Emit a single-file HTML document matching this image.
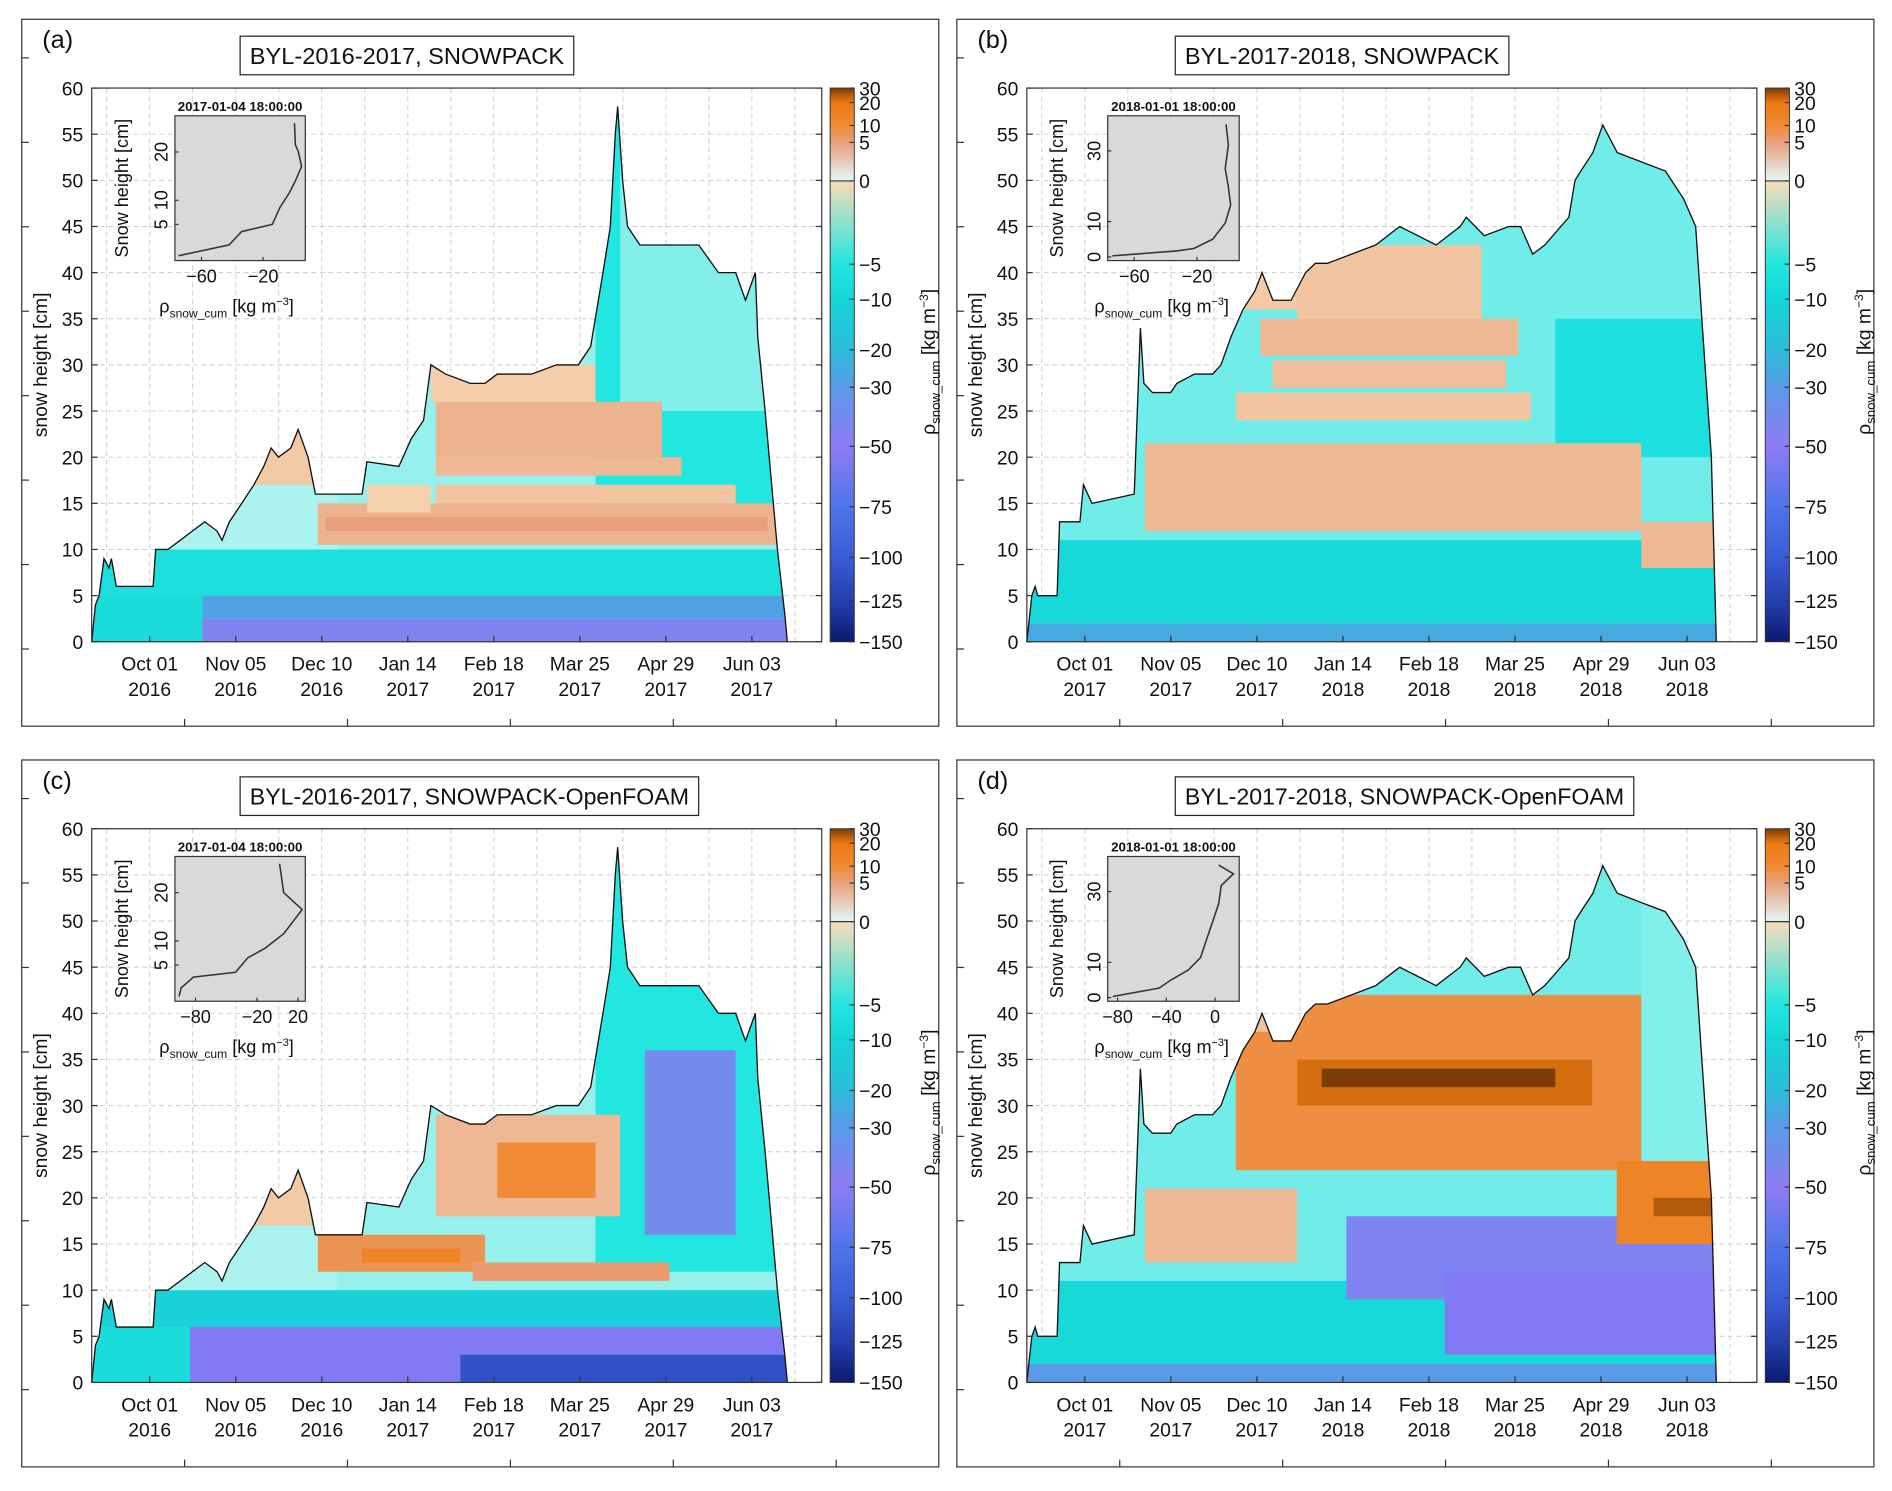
<!DOCTYPE html>
<html><head><meta charset="utf-8"><style>
html,body{margin:0;padding:0;background:#fff}
svg{display:block;font-family:"Liberation Sans","DejaVu Sans",sans-serif}
</style></head><body>
<svg id="fig" xmlns="http://www.w3.org/2000/svg" width="1892" height="1491" viewBox="0 0 1568 1236" preserveAspectRatio="none"></svg>
<script>
// ---- data ----
const xTickLabels=["Oct 01","Nov 05","Dec 10","Jan 14","Feb 18","Mar 25","Apr 29","Jun 03"];
const xTickDaysA=[23.6,58.6,93.6,128.6,163.6,198.6,233.6,268.6];
const yearsA=["2016","2016","2016","2017","2017","2017","2017","2017"];
const yearsB=["2017","2017","2017","2018","2018","2018","2018","2018"];
const yTicks=[0,5,10,15,20,25,30,35,40,45,50,55,60];
const cbTicks=[30,20,10,5,0,-5,-10,-20,-30,-50,-75,-100,-125,-150];
const cbTickY=[73,85,104,118,150,219,248,290,321,370,420,462,498,532];
const cmapV=[-150,-125,-100,-75,-50,-30,-20,-10,-5,0,0.001,5,10,20,30];
const cmapC=['#0b1a6e','#2440b0','#3a5cd6','#4f74ea','#8d7cf4','#5a9ae8','#2cbcd8','#14d6d8','#22e6e0','#e4f8f6','#f8dcb8','#e8a07c','#f08a34','#ec7a10','#7a3c08'];
// snow height envelopes: day offset and height (cm)
const envDaysA=[0,1.5,3,5,7,8,10,13,25,26,31,36,41,46,51,53,56,61,66,70,73,76,81,84,88,91,110,112,125,130,135,138,144,154,160,165,171,179,189,198,203,208,211,213,214,216,218,223,233,247,255,262,266,270,271,274,279,282,283];
const envHA=[0,4,5,9,8,9,6,6,6,10,10,11,12,13,12,11,13,15,17,19,21,20,21,23,20,16,16,19.5,19,22,24,30,29,28,28,29,29,29,30,30,32,40,45,55,58,50,45,43,43,43,40,40,37,40,33,25,10,3,0];
const envDaysB=[0,2,3.4,4.4,12.3,13.3,21.6,23,26.5,43.7,46.2,47.6,51.1,58.5,61,68.2,75.6,79,83,87.9,92.8,95.7,100.1,107.5,113.4,117.4,122.3,132.1,141.9,151.7,159.1,166.5,176.3,178.8,186.1,196,200.9,205.8,210.7,220.5,223,225.4,230.3,234.3,240.2,250,259.8,267.2,272.1,274.6,278.5,280.5];
const envHB=[0,5,6,5,5,13,13,17,15,16,34,28,27,27,28,29,29,30,33,36,38,40,37,37,40,41,41,42,43,45,44,43,45,46,44,45,45,42,43,46,50,51,53,56,53,52,51,48,45,35,20,0];
// layer blocks: [dayStart, dayEnd, hBottom, hTop, density]
const blocksA=[[0,300,0,60,-2],[0,300,5,10,-7],[0,45,0,5,-8],[45,300,2.5,5,-28],[45,300,0,2.5,-45],[30,100,10,22,-1.5],[205,300,12,60,-5],[215,300,25,60,-2.5],
 [92,280,10.5,15,3.5],[95,275,12,13.5,5],[140,262,15,17,2],[140,240,18,20,3],[140,232,20,26,3.5],[138,205,26,30,1.2],[112,138,14,17,1],[60,90,17,23,1.5]];
const blocksB=[[0,300,0,60,-3],[0,300,2,11,-9],[0,300,0,2,-25],[205,300,14,60,-3],[215,280,20,35,-7],[48,250,12,21.5,3],[250,285,8,13,3],[85,205,24,27,2],[95,200,31,35,3],[100,195,27.5,30.5,2.5],[110,185,35,43,2],[80,110,36,40,1.5]];
const blocksC=[[0,300,0,60,-2],[0,300,6,10,-12],[0,300,0,6,-8],[40,300,0,6,-55],[150,290,0,3,-110],[30,100,10,22,-1.5],[205,300,12,60,-5],[225,262,16,36,-40],
 [92,160,12,16,8],[110,150,13,14.5,14],[155,235,11,13,6],[140,215,18,29,3],[165,205,20,26,10],[60,90,17,23,1.5]];
const blocksD=[[0,300,0,60,-3],[0,300,2,11,-9],[0,300,0,2,-30],[130,290,9,18,-45],[170,290,3,12,-55],[48,110,13,21,3],
 [85,250,23,42,9],[110,230,30,35,22],[120,215,32,34,30],[240,282,15,24,14],[255,282,18,20,25],[250,295,24,60,-2.5],[80,100,38,42,2]];
// inset profiles: density value and snow height
const profXA=[-75,-42,-34,-14,-9,-3,1,5,3,1,0.4];
const profHA=[-1.5,0.75,3.5,5,8.5,11.5,14,17,20,21.5,26];
const profXB=[-74,-33,-22,-10,-2,1.5,0,-2,0,-1.5];
const profHB=[0.3,1.7,2.4,5,9.6,14.7,19.8,25,31.7,37.5];
const profXC=[-96,-94,-82,-41,-29,-12,6,24,6,2];
const profHC=[-1.5,0.25,2.5,3.5,6.5,8.5,11.5,16.5,20,26];
const profXD=[-84,-46,-36,-22,-12,-7,-2,3,5,15,3];
const profHD=[0.3,2.7,5,7.8,11.3,16.4,21.5,26.6,31.7,35,37.5];

// ---- helpers ----
const NS="http://www.w3.org/2000/svg";
const svg=document.getElementById('fig');
function mk(tag,attrs,parent){const e=document.createElementNS(NS,tag);for(const k in attrs)e.setAttribute(k,attrs[k]);(parent||svg).appendChild(e);return e;}
function hex(c){return [1,3,5].map(i=>parseInt(c.substr(i,2),16));}
function cmap(v){if(v<=cmapV[0])return cmapC[0];for(let i=1;i<cmapV.length;i++){if(v<=cmapV[i]){const t=(v-cmapV[i-1])/(cmapV[i]-cmapV[i-1]);const a=hex(cmapC[i-1]),b=hex(cmapC[i]);return 'rgb('+a.map((x,j)=>Math.round(x+(b[j]-x)*t)).join(',')+')';}}return cmapC[cmapC.length-1];}
function fmt(v){return v<0?'\u2212'+(-v):''+v;}
const X0=76,X1=681,Y0=73,Y1=532,PXD=2.037,PXH=(Y1-Y0)/60;

function panel(id,ox,oy,title,letter,envD,envH,blocks,years,inset){
  const g=mk('g',{transform:`translate(${ox},${oy})`});
  
  
  const fr=mk('rect',{x:18,y:16,width:760,height:586,fill:'none',stroke:'#333','stroke-width':1},g);
  
  for(let i=1;i<6;i++){mk('line',{x1:18+i*135,x2:18+i*135,y1:602,y2:596,stroke:'#333'},g);}
  for(let i=0;i<8;i++){mk('line',{x1:18,x2:24,y1:48+i*70,y2:48+i*70,stroke:'#333'},g);}
  const lt=mk('text',{x:35,y:40,'font-size':21,fill:'#111'},g);lt.textContent='('+letter+')';
  
  const tw=title.length*11.5+12;
  const tb=mk('rect',{x:199,y:30,width:tw,height:32,fill:'#fff',stroke:'#222'},g);
  
  const tt=mk('text',{x:199+tw/2,y:53,'font-size':19,'text-anchor':'middle',fill:'#111',textLength:tw-16,lengthAdjust:'spacingAndGlyphs'},g);tt.textContent=title;
  
  const xs=d=>X0+d*PXD, ys=h=>Y1-h*PXH;
  yTicks.forEach(t=>{mk('line',{x1:X0,x2:X1,y1:ys(t),y2:ys(t),stroke:'#ccc','stroke-dasharray':'4 3','stroke-width':0.8},g);});
  for(let d=6.1;d<300;d+=17.5){mk('line',{x1:xs(d),x2:xs(d),y1:Y0,y2:Y1,stroke:'#ccc','stroke-dasharray':'4 3','stroke-width':0.8},g);}
  const cp=mk('clipPath',{id:'clip'+id},g);
  let pts=envD.map((d,i)=>xs(d).toFixed(1)+','+ys(envH[i]).toFixed(1));
  const poly=pts.join(' ')+' '+xs(envD[envD.length-1]).toFixed(1)+','+Y1+' '+X0+','+Y1;
  mk('polygon',{points:poly},cp);
  const cg=mk('g',{'clip-path':`url(#clip${id})`},g);
  
  blocks.forEach(b=>{
    const r=mk('rect',{x:xs(b[0]),y:ys(b[3]),width:(b[1]-b[0])*PXD,height:(b[3]-b[2])*PXH,fill:cmap(b[4])},cg);
    
    
  });
  const pl=mk('polyline',{points:pts.join(' '),fill:'none',stroke:'#111','stroke-width':1.1},g);
  
  const ax=mk('rect',{x:X0,y:Y0,width:X1-X0,height:Y1-Y0,fill:'none',stroke:'#333'},g);
  
  yTicks.forEach(t=>{const tx=mk('text',{x:X0-7,y:ys(t)+6,'font-size':16,'text-anchor':'end',fill:'#111'},g);tx.textContent=t;
    
    mk('line',{x1:X0,x2:X0+5,y1:ys(t),y2:ys(t),stroke:'#333'},g);mk('line',{x1:X1,x2:X1-5,y1:ys(t),y2:ys(t),stroke:'#333'},g);});
  xTickDaysA.forEach((d,i)=>{const x=xs(d);
    mk('line',{x1:x,x2:x,y1:Y1,y2:Y1-5,stroke:'#333'},g);
    const t1=mk('text',{x:x,y:556,'font-size':16,'text-anchor':'middle',fill:'#111'},g);t1.textContent=xTickLabels[i];
    
    const t2=mk('text',{x:x,y:577,'font-size':16,'text-anchor':'middle',fill:'#111'},g);t2.textContent=years[i];
    });
  const yl=mk('text',{x:0,y:0,'font-size':16,'text-anchor':'middle',fill:'#111',transform:`translate(39,${(Y0+Y1)/2}) rotate(-90)`},g);yl.textContent='snow height [cm]';
  
  const gid='cbg'+id;const lg=mk('linearGradient',{id:gid,x1:0,y1:0,x2:0,y2:1,gradientUnits:'objectBoundingBox'},g);
  cbTicks.forEach((v,i)=>{const off=(cbTickY[i]-Y0)/(Y1-Y0);mk('stop',{offset:off,'stop-color':cmap(v===0?-0.01:v)},lg);if(v===0)mk('stop',{offset:off,'stop-color':cmap(0.01)},lg);});
  const cb=mk('rect',{x:688,y:Y0,width:20,height:Y1-Y0,fill:`url(#${gid})`,stroke:'#333','stroke-width':0.8},g);
  
  mk('line',{x1:688,x2:708,y1:150,y2:150,stroke:'#333'},g);
  cbTicks.forEach((v,i)=>{mk('line',{x1:704,x2:708,y1:cbTickY[i],y2:cbTickY[i],stroke:'#333'},g);
    const t=mk('text',{x:712,y:cbTickY[i]+6,'font-size':16,fill:'#111'},g);t.textContent=fmt(v);
    });
  const cl=mk('text',{x:0,y:0,'font-size':16,'text-anchor':'middle',fill:'#111',transform:'translate(775,300) rotate(-90)'},g);
  cl.innerHTML='ρ<tspan font-size="11" dy="4">snow_cum</tspan><tspan dy="-4"> [kg m</tspan><tspan font-size="10" dy="-6">−3</tspan><tspan dy="6">]</tspan>';
  
  const ig=mk('g',{},g);
  const bx=inset.bx,L=bx[0],R=bx[1],T=96,B=216;
  mk('rect',{x:L,y:T,width:R-L,height:B-T,fill:'#d9d9d9',stroke:'#333'},ig);
  const it=mk('text',{x:(L+R)/2,y:92,'font-size':11,'font-weight':'bold','text-anchor':'middle',fill:'#111'},ig);it.textContent=inset.date;
  const ixs=v=>inset.x0+v*inset.kx, iys=h=>inset.y0-h*inset.ky;
  inset.xt.forEach(v=>{mk('line',{x1:ixs(v),x2:ixs(v),y1:B,y2:B-3,stroke:'#333'},ig);const t=mk('text',{x:ixs(v),y:B+18,'font-size':15,'text-anchor':'middle',fill:'#111'},ig);t.textContent=fmt(v);});
  inset.yt.forEach(v=>{mk('line',{x1:L,x2:L+3,y1:iys(v),y2:iys(v),stroke:'#333'},ig);const t=mk('text',{x:0,y:0,'font-size':15,'text-anchor':'middle',fill:'#111',transform:`translate(${L-6},${iys(v)}) rotate(-90)`},ig);t.textContent=v;});
  const pp=inset.px.map((v,i)=>ixs(v).toFixed(1)+','+iys(inset.ph[i]).toFixed(1)).join(' ');
  mk('polyline',{points:pp,fill:'none',stroke:'#333','stroke-width':1.3},ig);
  const iy=mk('text',{x:0,y:0,'font-size':15,'text-anchor':'middle',fill:'#111',transform:`translate(106,${(T+B)/2}) rotate(-90)`},ig);iy.textContent='Snow height [cm]';
  const ix=mk('text',{x:132,y:259,'font-size':15,fill:'#111'},ig);
  ix.innerHTML='ρ<tspan font-size="10" dy="4">snow_cum</tspan><tspan dy="-4"> [kg m</tspan><tspan font-size="9" dy="-6">−3</tspan><tspan dy="6">]</tspan>';
}
const insA={bx:[145,253],date:'2017-01-04 18:00:00',x0:243.5,kx:1.275,y0:206,ky:4,xt:[-60,-20],yt:[5,10,20],px:profXA,ph:profHA};
const insB={bx:[918,1027].map(v=>v-775),date:'2018-01-01 18:00:00',x0:1018-775,kx:1.3,y0:213,ky:2.93,xt:[-60,-20],yt:[0,10,30],px:profXB,ph:profHB};
const insC={bx:[145,253],date:'2017-01-04 18:00:00',x0:230,kx:0.85,y0:206,ky:4,xt:[-80,-20,20],yt:[5,10,20],px:profXC,ph:profHC};
const insD={bx:[918,1027].map(v=>v-775),date:'2018-01-01 18:00:00',x0:1007-775,kx:1.01,y0:213,ky:2.93,xt:[-80,-40,0],yt:[0,10,30],px:profXD,ph:profHD};
panel('a',0,0,'BYL-2016-2017, SNOWPACK','a',envDaysA,envHA,blocksA,yearsA,insA);
panel('b',775,0,'BYL-2017-2018, SNOWPACK','b',envDaysB,envHB,blocksB,yearsB,insB);
panel('c',0,614,'BYL-2016-2017, SNOWPACK-OpenFOAM','c',envDaysA,envHA,blocksC,yearsA,insC);
panel('d',775,614,'BYL-2017-2018, SNOWPACK-OpenFOAM','d',envDaysB,envHB,blocksD,yearsB,insD);
</script>
</body></html>
